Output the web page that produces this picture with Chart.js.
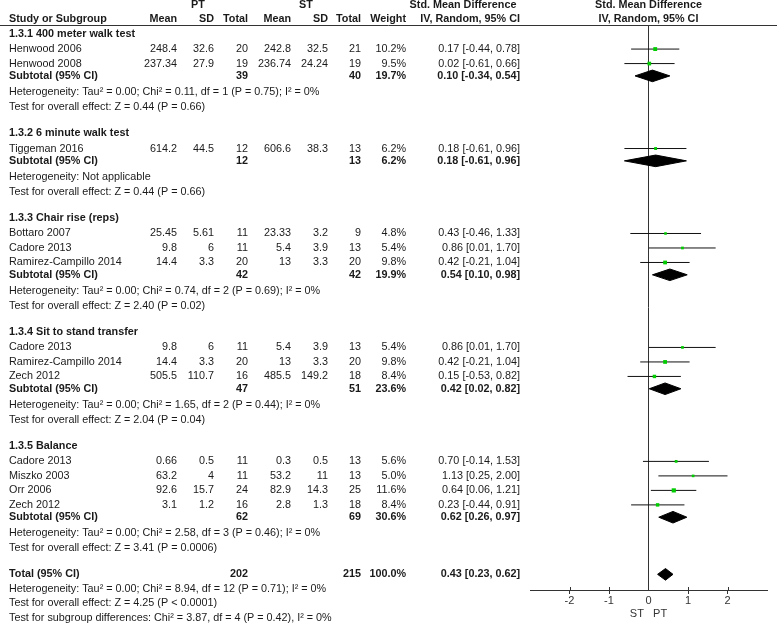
<!DOCTYPE html>
<html>
<head>
<meta charset="utf-8">
<script src="https://cdn.jsdelivr.net/npm/chart.js@4.4.0/dist/chart.umd.min.js"></script>
<style>
  html, body { margin: 0; padding: 0; background: #fff; }
  canvas { display: block; }
</style>
</head>
<body>
<canvas id="forest" width="777" height="626"></canvas>
<script>
// --- data ---
const groupNames = ['1.3.1 400 meter walk test', '1.3.2 6 minute walk test', '1.3.3 Chair rise (reps)',
  '1.3.4 Sit to stand transfer', '1.3.5 Balance'];
const studyGroup = [0, 0, 1, 2, 2, 2, 3, 3, 3, 4, 4, 4, 4];
const studyNames = ['Henwood 2006', 'Henwood 2008', 'Tiggeman 2016', 'Bottaro 2007', 'Cadore 2013',
  'Ramirez-Campillo 2014', 'Cadore 2013', 'Ramirez-Campillo 2014', 'Zech 2012', 'Cadore 2013',
  'Miszko 2003', 'Orr 2006', 'Zech 2012'];
const ptMean = [248.4, 237.34, 614.2, 25.45, 9.8, 14.4, 9.8, 14.4, 505.5, 0.66, 63.2, 92.6, 3.1];
const ptSD = [32.6, 27.9, 44.5, 5.61, 6, 3.3, 6, 3.3, 110.7, 0.5, 4, 15.7, 1.2];
const ptN = [20, 19, 12, 11, 11, 20, 11, 20, 16, 11, 11, 24, 16];
const stMean = [242.8, 236.74, 606.6, 23.33, 5.4, 13, 5.4, 13, 485.5, 0.3, 53.2, 82.9, 2.8];
const stSD = [32.5, 24.24, 38.3, 3.2, 3.9, 3.3, 3.9, 3.3, 149.2, 0.5, 11, 14.3, 1.3];
const stN = [21, 19, 13, 9, 13, 20, 13, 20, 18, 13, 13, 25, 18];
const weight = [10.2, 9.5, 6.2, 4.8, 5.4, 9.8, 5.4, 9.8, 8.4, 5.6, 5.0, 11.6, 8.4];
const smd = [0.17, 0.02, 0.18, 0.43, 0.86, 0.42, 0.86, 0.42, 0.15, 0.70, 1.13, 0.64, 0.23];
const lo = [-0.44, -0.61, -0.61, -0.46, 0.01, -0.21, 0.01, -0.21, -0.53, -0.14, 0.25, 0.06, -0.44];
const hi = [0.78, 0.66, 0.96, 1.33, 1.70, 1.04, 1.70, 1.04, 0.82, 1.53, 2.00, 1.21, 0.91];

const subPtN = [39, 12, 42, 47, 62];
const subStN = [40, 13, 42, 51, 69];
const subWeight = [19.7, 6.2, 19.9, 23.6, 30.6];
const subSmd = [0.10, 0.18, 0.54, 0.42, 0.62];
const subLo = [-0.34, -0.61, 0.10, 0.02, 0.26];
const subHi = [0.54, 0.96, 0.98, 0.82, 0.97];
const hetText = [
  'Heterogeneity: Tau² = 0.00; Chi² = 0.11, df = 1 (P = 0.75); I² = 0%',
  'Heterogeneity: Not applicable',
  'Heterogeneity: Tau² = 0.00; Chi² = 0.74, df = 2 (P = 0.69); I² = 0%',
  'Heterogeneity: Tau² = 0.00; Chi² = 1.65, df = 2 (P = 0.44); I² = 0%',
  'Heterogeneity: Tau² = 0.00; Chi² = 2.58, df = 3 (P = 0.46); I² = 0%'];
const effectText = [
  'Test for overall effect: Z = 0.44 (P = 0.66)',
  'Test for overall effect: Z = 0.44 (P = 0.66)',
  'Test for overall effect: Z = 2.40 (P = 0.02)',
  'Test for overall effect: Z = 2.04 (P = 0.04)',
  'Test for overall effect: Z = 3.41 (P = 0.0006)'];

const totalPtN = 202, totalStN = 215, totalWeight = 100.0;
const totalSmd = 0.43, totalLo = 0.23, totalHi = 0.62;
const totalNotes = [
  'Heterogeneity: Tau² = 0.00; Chi² = 8.94, df = 12 (P = 0.71); I² = 0%',
  'Test for overall effect: Z = 4.25 (P < 0.0001)',
  'Test for subgroup differences: Chi² = 3.87, df = 4 (P = 0.42), I² = 0%'];

const xTicks = [-2, -1, 0, 1, 2];

// --- row layout (in row units) ---
const rows = [];
let r = 1;
groupNames.forEach((g, gi) => {
  rows.push({kind: 'group', r, gi});
  r += 1.07;
  studyGroup.forEach((sg, i) => {
    if (sg !== gi) return;
    rows.push({kind: 'study', r, i});
    r += 1;
  });
  r += 0.85 - 1;
  rows.push({kind: 'sub', r, gi});
  r += 1.12;
  rows.push({kind: 'note', r, text: hetText[gi]});
  r += 1.02;
  rows.push({kind: 'note', r, text: effectText[gi]});
  r += 1.8;
});
rows.push({kind: 'total', r});
r += 1.02;
totalNotes.forEach(t => { rows.push({kind: 'note', r, text: t}); r += 0.98; });

const studyRows = rows.filter(o => o.kind === 'study');
const ciData = [];
studyRows.forEach(o => {
  ciData.push({x: lo[o.i], y: o.r}, {x: hi[o.i], y: o.r}, {x: lo[o.i], y: null});
});
const sqData = studyRows.map(o => ({x: smd[o.i], y: o.r}));
const sqRadius = studyRows.map(o => 1 + weight[o.i] * 0.17);

const DH = 0.4;
const dmData = [];
rows.forEach(o => {
  let m, l, h;
  if (o.kind === 'sub') { m = subSmd[o.gi]; l = subLo[o.gi]; h = subHi[o.gi]; }
  else if (o.kind === 'total') { m = totalSmd; l = totalLo; h = totalHi; }
  else return;
  dmData.push({x: l, y: o.r}, {x: m, y: o.r - DH}, {x: h, y: o.r}, {x: m, y: o.r + DH},
    {x: l, y: o.r}, {x: l, y: null});
});

// --- text columns ---
const FONT = '"Liberation Sans", Arial, sans-serif';
const INK = '#1a1a1a';
const f2 = v => v.toFixed(2);
const ciStr = (m, l, h) => f2(m) + ' [' + f2(l) + ', ' + f2(h) + ']';
const pct = v => v.toFixed(1) + '%';

const tablePlugin = {
  id: 'table',
  afterDraw(chart) {
    const ctx = chart.ctx;
    const ys = chart.scales.y, xs = chart.scales.x;
    const Y = v => ys.getPixelForValue(v);
    const x0 = xs.getPixelForValue(0);
    const col = {name: 9, ptMean: 177, ptSD: 214, ptN: 248, stMean: 291, stSD: 328, stN: 361, wt: 406, ci: 520};
    ctx.save();
    ctx.fillStyle = INK;
    ctx.textBaseline = 'middle';
    const t = (s, x, y, align, bold) => {
      ctx.font = (bold ? 'bold ' : '') + '10.8px ' + FONT;
      ctx.textAlign = align;
      ctx.fillText(String(s), x, y);
    };
    // header
    const h1 = Y(-1), h2 = Y(0);
    t('PT', 198, h1, 'center', true);
    t('ST', 306, h1, 'center', true);
    t('Std. Mean Difference', 463, h1, 'center', true);
    t('Std. Mean Difference', x0, h1, 'center', true);
    t('Study or Subgroup', col.name, h2, 'left', true);
    t('Mean', col.ptMean, h2, 'right', true);
    t('SD', col.ptSD, h2, 'right', true);
    t('Total', col.ptN, h2, 'right', true);
    t('Mean', col.stMean, h2, 'right', true);
    t('SD', col.stSD, h2, 'right', true);
    t('Total', col.stN, h2, 'right', true);
    t('Weight', col.wt, h2, 'right', true);
    t('IV, Random, 95% CI', col.ci, h2, 'right', true);
    t('IV, Random, 95% CI', x0, h2, 'center', true);

    rows.forEach(o => {
      const y = Y(o.r);
      if (o.kind === 'group') t(groupNames[o.gi], col.name, y, 'left', true);
      else if (o.kind === 'study') {
        const i = o.i;
        t(studyNames[i], col.name, y, 'left');
        t(ptMean[i], col.ptMean, y, 'right');
        t(ptSD[i], col.ptSD, y, 'right');
        t(ptN[i], col.ptN, y, 'right');
        t(stMean[i], col.stMean, y, 'right');
        t(stSD[i], col.stSD, y, 'right');
        t(stN[i], col.stN, y, 'right');
        t(pct(weight[i]), col.wt, y, 'right');
        t(ciStr(smd[i], lo[i], hi[i]), col.ci, y, 'right');
      } else if (o.kind === 'sub') {
        const g = o.gi;
        t('Subtotal (95% CI)', col.name, y, 'left', true);
        t(subPtN[g], col.ptN, y, 'right', true);
        t(subStN[g], col.stN, y, 'right', true);
        t(pct(subWeight[g]), col.wt, y, 'right', true);
        t(ciStr(subSmd[g], subLo[g], subHi[g]), col.ci, y, 'right', true);
      } else if (o.kind === 'total') {
        t('Total (95% CI)', col.name, y, 'left', true);
        t(totalPtN, col.ptN, y, 'right', true);
        t(totalStN, col.stN, y, 'right', true);
        t(pct(totalWeight), col.wt, y, 'right', true);
        t(ciStr(totalSmd, totalLo, totalHi), col.ci, y, 'right', true);
      } else if (o.kind === 'note') {
        t(o.text, col.name, y, 'left');
      }
    });

    // header rule
    const top = Math.round(chart.chartArea.top) + 0.5;
    ctx.strokeStyle = '#333';
    ctx.lineWidth = 1;
    ctx.beginPath();
    ctx.moveTo(0, top);
    ctx.lineTo(chart.width, top);
    ctx.stroke();
    // tick marks cross the axis line
    const bot = chart.chartArea.bottom;
    ctx.beginPath();
    xTicks.forEach(v => {
      if (v === 0) return;
      const px = Math.round(xs.getPixelForValue(v)) + 0.5;
      ctx.moveTo(px, bot - 3);
      ctx.lineTo(px, bot);
    });
    ctx.stroke();
    ctx.restore();
  }
};

new Chart(document.getElementById('forest'), {
  type: 'scatter',
  data: {
    datasets: [
      {
        data: sqData,
        pointStyle: 'rect',
        pointRadius: c => sqRadius[c.dataIndex],
        backgroundColor: '#00cc00',
        borderWidth: 0
      },
      {
        data: ciData,
        showLine: true,
        spanGaps: false,
        borderColor: '#111',
        borderWidth: 1,
        pointRadius: 0
      },
      {
        data: dmData,
        showLine: true,
        spanGaps: false,
        fill: 'shape',
        backgroundColor: '#000',
        borderColor: '#000',
        borderWidth: 1,
        pointRadius: 0
      }
    ]
  },
  options: {
    responsive: false,
    animation: false,
    layout: {padding: {left: 530, right: 10, top: 25, bottom: 0}},
    plugins: {legend: {display: false}, tooltip: {enabled: false}},
    scales: {
      x: {
        type: 'linear',
        min: -3,
        max: 3,
        afterFit(scale) { scale.height = 36; },
        ticks: {
          stepSize: 1,
          padding: 0,
          color: '#333',
          font: {family: FONT, size: 11},
          callback: v => (xTicks.includes(v) ? String(v) : '')
        },
        grid: {
          color: c => (c.tick && c.tick.value === 0 ? '#333' : 'rgba(0,0,0,0)'),
          tickColor: c => (c.tick && c.tick.value !== 0 && xTicks.includes(c.tick.value) ? '#333' : 'rgba(0,0,0,0)'),
          tickLength: 4
        },
        border: {color: '#333'},
        title: {
          display: true,
          text: 'ST   PT',
          color: '#333',
          font: {family: FONT, size: 11},
          padding: {top: 0, bottom: 5}
        }
      },
      y: {
        type: 'linear',
        display: false,
        reverse: true,
        min: 0.41,
        max: 39.38
      }
    }
  },
  plugins: [tablePlugin]
});
</script>
</body>
</html>
